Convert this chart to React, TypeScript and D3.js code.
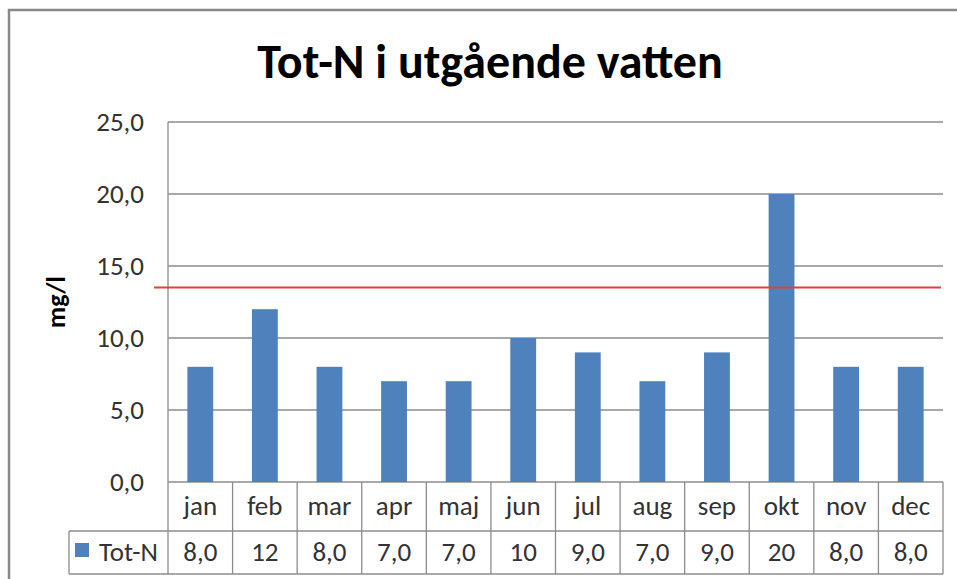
import React from "react";
import * as d3 from "d3";

const categories = ["jan", "feb", "mar", "apr", "maj", "jun", "jul", "aug", "sep", "okt", "nov", "dec"];
const values = [8, 12, 8, 7, 7, 10, 9, 7, 9, 20, 8, 8];
const valueLabels = ["8,0", "12", "8,0", "7,0", "7,0", "10", "9,0", "7,0", "9,0", "20", "8,0", "8,0"];
const yTicks = [0, 5, 10, 15, 20, 25];
const limitValue = 13.5;
const seriesName = "Tot-N";
const title = "Tot-N i utgående vatten";
const yLabel = "mg/l";

const W = 957;
const H = 579;
const plot = { left: 168, right: 943, top: 122, bottom: 482 };
const rowH1 = 49;
const rowH2 = 43;
const legendLeft = 69;
const font = "Carlito, Calibri, 'Open Sans', 'Liberation Sans', sans-serif";

export default function App() {
  const x = d3.scaleBand<string>().domain(categories).range([plot.left, plot.right]).paddingInner(0).paddingOuter(0);
  const y = d3.scaleLinear().domain([0, 25]).range([plot.bottom, plot.top]);
  const bw = x.bandwidth() / 2.5;
  const grid = "#8c8c8c";
  const txt = "#333";
  const fmt = (v: number) => d3.format(".1f")(v).replace(".", ",");
  const r1 = plot.bottom + rowH1;
  const r2 = r1 + rowH2;
  return (
    <svg width={W} height={H} style={{ position: "absolute", left: 0, top: 0 }} fontFamily={font}>
      <rect x={0} y={0} width={W} height={H} fill="#fff" />
      <rect x={9} y={10} width={W + 20} height={H + 20} fill="#fff" stroke="#888" strokeWidth={2.5} />
      <text x={490} y={78} textAnchor="middle" fontSize={48} fontWeight="bold" fill="#000">{title}</text>
      {yTicks.map((t) => (
        <g key={t}>
          <line x1={plot.left} x2={plot.right} y1={y(t)} y2={y(t)} stroke={grid} strokeWidth={1.3} />
          <text x={144} y={y(t) + 9} textAnchor="end" fontSize={27} fill={txt}>{fmt(t)}</text>
        </g>
      ))}
      <line x1={plot.left} x2={plot.left} y1={plot.top} y2={r2} stroke={grid} strokeWidth={1.3} />
      <text transform={`translate(65,${302}) rotate(-90)`} textAnchor="middle" fontSize={26} fontWeight="bold" fill="#000">{yLabel}</text>
      {categories.map((c, i) => (
        <rect key={c} x={(x(c) as number) + (x.bandwidth() - bw) / 2} y={y(values[i])} width={bw} height={plot.bottom - y(values[i])} fill="#4F81BD" />
      ))}
      <line x1={154} x2={941} y1={y(limitValue)} y2={y(limitValue)} stroke="#E0403A" strokeWidth={2} />
      <line x1={legendLeft} x2={plot.right} y1={r1} y2={r1} stroke={grid} strokeWidth={1.3} />
      <line x1={legendLeft} x2={plot.right} y1={r2} y2={r2} stroke={grid} strokeWidth={1.3} />
      <line x1={legendLeft} x2={legendLeft} y1={r1} y2={r2} stroke={grid} strokeWidth={1.3} />
      {categories.map((c, i) => (
        <g key={c}>
          <line x1={(x(c) as number) + x.bandwidth()} x2={(x(c) as number) + x.bandwidth()} y1={plot.bottom} y2={r2} stroke={grid} strokeWidth={1.3} />
          <text x={(x(c) as number) + x.bandwidth() / 2} y={plot.bottom + 33} textAnchor="middle" fontSize={27} fill={txt}>{c}</text>
          <text x={(x(c) as number) + x.bandwidth() / 2} y={r1 + 30} textAnchor="middle" fontSize={27} fill={txt}>{valueLabels[i]}</text>
        </g>
      ))}
      <rect x={75} y={r1 + 12} width={14} height={14} fill="#4F81BD" />
      <text x={99} y={r1 + 30} fontSize={27} fill={txt}>{seriesName}</text>
    </svg>
  );
}
